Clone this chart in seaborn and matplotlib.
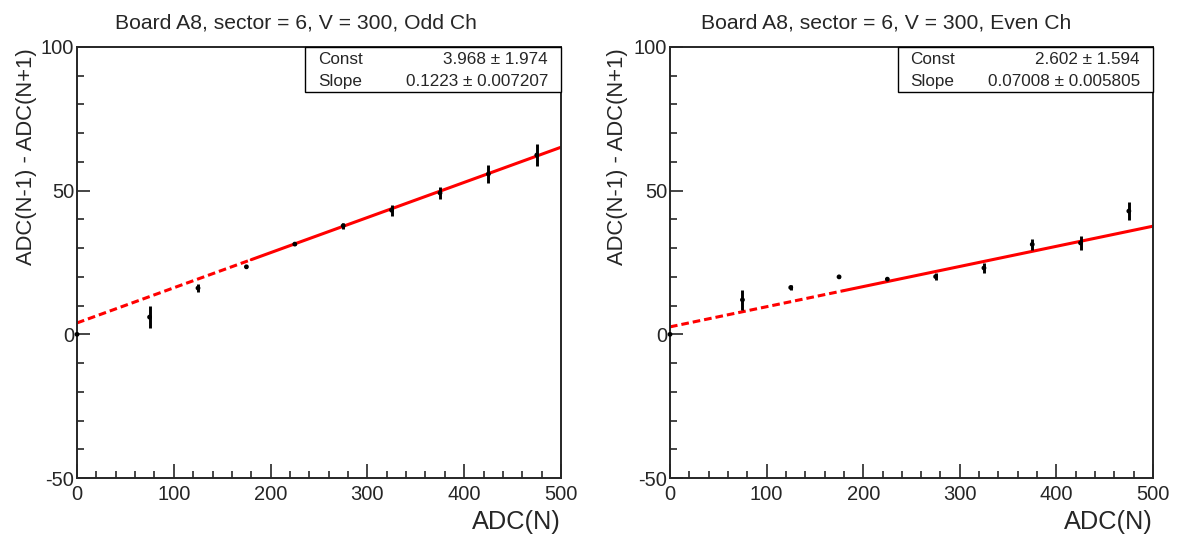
"""
ADC neighbour-difference vs ADC(N) for board A8, odd and even channels,
with linear fits (solid over the fit range, dashed extrapolation).
"""

import numpy as np
import pandas as pd
import matplotlib
matplotlib.use("Agg")
import matplotlib.pyplot as plt
from matplotlib.ticker import MultipleLocator
import seaborn as sns

# data
adc_n = [0, 75, 125, 175, 225, 275, 325, 375, 425, 475]

diff_odd = [0, 6.0, 16.1, 23.5, 31.4, 37.8, 43.2, 49.2, 55.8, 62.4]
err_odd = [0, 3.9, 1.3, 0.5, 0.3, 1.1, 1.9, 2.2, 3.0, 3.8]

diff_even = [0, 12.0, 16.3, 20.0, 19.2, 20.1, 23.1, 31.3, 31.8, 42.9]
err_even = [0, 3.5, 1.0, 0.4, 0.3, 1.2, 1.6, 2.0, 2.3, 3.1]

# fit results (const, const err, slope, slope err)
fit_odd = (3.968, 1.974, 0.1223, 0.007207)
fit_even = (2.602, 1.594, 0.07008, 0.005805)
fit_labels = [("3.968", "1.974", "0.1223", "0.007207"),
              ("2.602", "1.594", "0.07008", "0.005805")]

fit_range = [180, 500]
extrap_range = [0, 180]

titles = ["Board A8, sector = 6, V = 300, Odd Ch",
          "Board A8, sector = 6, V = 300, Even Ch"]

sns.set_style("ticks")
plt.rcParams['font.family'] = ['Liberation Sans', 'DejaVu Sans']
plt.rcParams['axes.linewidth'] = 1.4
plt.rcParams['axes.unicode_minus'] = False

W, H = 1182, 540
fig = plt.figure(figsize=(W / 100, H / 100), dpi=100)

axes_px = [(77, 561), (670, 1153)]
top_px, bot_px = 47, 478


def draw_panel(ax, y, yerr, fit, labels, title, pad_left):
    const, _, slope, _ = fit
    df = pd.DataFrame({'x': adc_n, 'y': y, 'e': yerr})

    # fit line: solid inside fit range, dashed extrapolation
    xs = np.array(fit_range, dtype=float)
    sns.lineplot(x=xs, y=const + slope * xs, color='#ff0000', lw=2.2, ax=ax)
    xd = np.array(extrap_range, dtype=float)
    line = sns.lineplot(x=xd, y=const + slope * xd, color='#ff0000', lw=2.2, ax=ax)
    line.lines[-1].set_dashes((2.5, 1.3))

    ax.errorbar(df['x'], df['y'], yerr=df['e'], fmt='none', ecolor='black',
                elinewidth=2.1, capsize=0, zorder=3)
    sns.scatterplot(data=df, x='x', y='y', color='black', s=12,
                    edgecolor='none', ax=ax, zorder=4, clip_on=False)

    ax.set_xlim(0, 500)
    ax.set_ylim(-50, 100)
    ax.xaxis.set_major_locator(MultipleLocator(100))
    ax.xaxis.set_minor_locator(MultipleLocator(20))
    ax.yaxis.set_major_locator(MultipleLocator(50))
    ax.yaxis.set_minor_locator(MultipleLocator(10))
    ax.tick_params(axis='x', which='major', direction='in', length=10, width=1.2,
                   labelsize=14.5, pad=5)
    ax.tick_params(axis='x', which='minor', direction='in', length=5, width=1.2)
    ax.tick_params(axis='y', which='major', direction='in', length=9.5, width=1.2,
                   labelsize=14.5, pad=2)
    ax.tick_params(axis='y', which='minor', direction='in', length=5, width=1.2)
    for s in ax.spines.values():
        s.set_visible(True)

    ax.set_xlabel('')
    ax.set_ylabel('')
    # axis titles, ROOT style (aligned to the axis end)
    ax.text(1.0, -0.102, 'ADC(N)', transform=ax.transAxes, ha='right',
            va='center', fontsize=18.3)
    ax.text(pad_left, 0.998, 'ADC(N-1) - ADC(N+1)', transform=ax.transAxes,
            rotation=90, ha='center', va='top', fontsize=15.8)

    # stats box
    bx0 = 0.472
    ax.add_patch(plt.Rectangle((bx0, 0.895), 1 - bx0, 0.105,
                               transform=ax.transAxes, fill=True,
                               facecolor='white', edgecolor='black', lw=1.0,
                               zorder=5, clip_on=False))
    c, ce, sl, se = labels
    ax.text(bx0 + 0.026, 0.972, 'Const', transform=ax.transAxes,
            ha='left', va='center', fontsize=12.3, zorder=6)
    ax.text(0.973, 0.972, f'{c} \u00b1 {ce}', transform=ax.transAxes,
            ha='right', va='center', fontsize=12.3, zorder=6)
    ax.text(bx0 + 0.026, 0.921, 'Slope', transform=ax.transAxes,
            ha='left', va='center', fontsize=12.3, zorder=6)
    ax.text(0.973, 0.921, f'{sl} \u00b1 {se}', transform=ax.transAxes,
            ha='right', va='center', fontsize=12.3, zorder=6)


panels = [(diff_odd, err_odd, fit_odd), (diff_even, err_even, fit_even)]
for i, (y, e, fit) in enumerate(panels):
    x0, x1 = axes_px[i]
    ax = fig.add_axes([x0 / W, 1 - bot_px / H, (x1 - x0) / W, (bot_px - top_px) / H])
    ylab_px = 27 + i * 591
    draw_panel(ax, y, e, fit, fit_labels[i], titles[i], (ylab_px - x0) / (x1 - x0))
    fig.text((295.5 + i * 591) / W, 1 - 23 / H, titles[i], ha='center',
             va='center', fontsize=15.2)

fig.savefig('out.png', dpi=100)
